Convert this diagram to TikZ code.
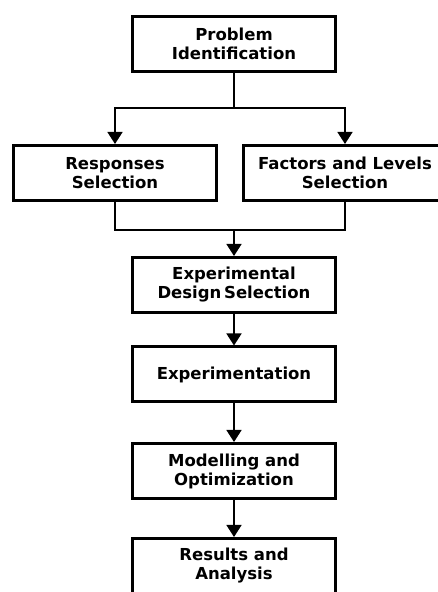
\documentclass[tikz,border=0pt]{standalone}
\usepackage{fontspec}
\setmainfont{DejaVu Sans}
\usetikzlibrary{arrows.meta}

\begin{document}
\begin{tikzpicture}
    [
        x=1pt, y=1pt,
        box/.style={rectangle, draw, line width=3pt, minimum width=203pt,
            minimum height=55pt, align=center, inner sep=2pt,
            font=\fontsize{16.5}{19}\selectfont\bfseries},
        edge/.style={line width=1.5pt, -{Triangle[width=15pt,length=12pt]}},
        link/.style={line width=1.5pt},
    ]
    \useasboundingbox (0,0) rectangle (438,592);

    % top
    \node (prob) at (234,548) [box] {Problem\\Identification};
    \coordinate (split) at (234,484);

    % choices
    \node (resp) at (115,419) [box] {Responses\\Selection};
    \node (fact) at (345,419) [box] {Factors and Levels\\Selection};
    \coordinate (join) at (234,362);

    \path[link]
    (prob)  edge            (split);
    \draw[edge] (split) -| (resp);
    \draw[edge] (split) -| (fact);
    \draw[link] (resp) |- (join) -| (fact);

    % chain
    \node (design) at (234,307)   [box] {Experimental\\Design\,Selection};
    \node (expt)   at (234,217.5) [box] {Experimentation};
    \node (model)  at (234,121)   [box] {Modelling and\\Optimization};
    \node (result) at (234,26)    [box] {Results and\\Analysis};

    \path[edge]
    (join)   edge (design)
    (design) edge (expt)
    (expt)   edge (model)
    (model)  edge (result);

\end{tikzpicture}
\end{document}
